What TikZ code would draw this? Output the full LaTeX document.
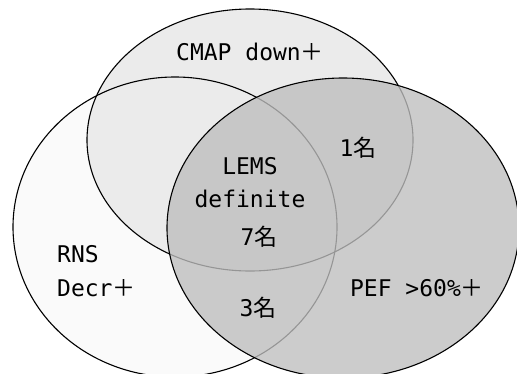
\documentclass[tikz,border=0pt]{standalone}
\usepackage{fontspec}
\setmainfont{DejaVu Sans Mono}
\newfontfamily\jpfont{Noto Sans CJK JP}
\newcommand{\jp}[1]{{\jpfont #1}}
\usetikzlibrary{positioning}
\definecolor{setwhite}{RGB}{250,250,250}
\definecolor{setlight}{RGB}{235,235,235}
\definecolor{setdark}{RGB}{190,190,190}

\begin{document}
\begin{tikzpicture}[x=1pt, y=-1pt,
      setline/.style={draw=black, line width=1.1pt},
      lbl/.style={font=\fontsize{23}{27}\selectfont, inner sep=0pt}
    ]
    \useasboundingbox (0,0) rectangle (517,373);
    \clip (0,0) rectangle (517,373);
    % RNS and CMAP sets
    \fill[setwhite] (175,227) ellipse [x radius=162pt, y radius=150pt];
    \fill[setlight] (250,140) ellipse [x radius=163pt, y radius=131pt];
    \draw[setline] (175,227) ellipse [x radius=162pt, y radius=150pt];
    \draw[setline] (250,140) ellipse [x radius=163pt, y radius=131pt];
    % PEF set on top, see-through
    \fill[setdark, fill opacity=0.79] (343,228) ellipse [x radius=176pt, y radius=150pt];
    \draw[setline] (343,228) ellipse [x radius=176pt, y radius=150pt];
    % labels
    \node[lbl] (cmap) at (250,52)  {CMAP down\jp{＋}};
    \node[lbl] (one)  at (358,148) {1\jp{名}};
    \node[lbl] (lems) at (250,166) {LEMS};
    \node[lbl] (defn) at (250,199) {definite};
    \node[lbl] (seven) at (259,237) {7\jp{名}};
    \node[lbl, anchor=west] (rns)  at (57,254) {RNS};
    \node[lbl, anchor=west] (decr) at (57,288) {Decr\jp{＋}};
    \node[lbl] (three) at (258,308) {3\jp{名}};
    \node[lbl] (pef)  at (417,288) {PEF >60\%\jp{＋}};
\end{tikzpicture}
\end{document}
